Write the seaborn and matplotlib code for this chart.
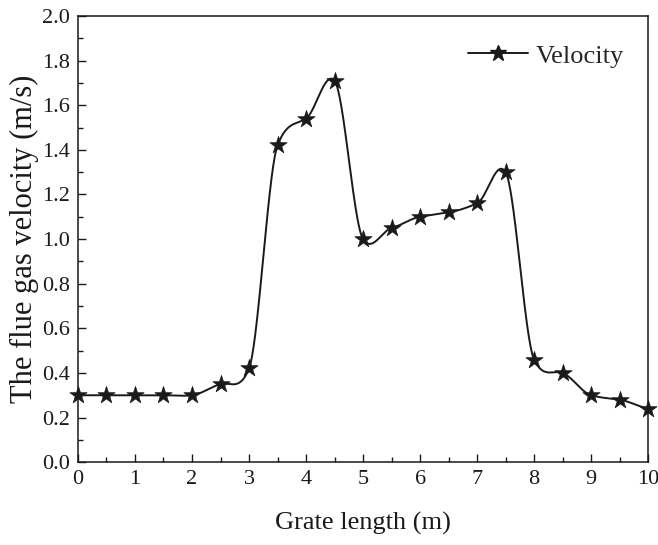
import numpy as np
import pandas as pd
import matplotlib
matplotlib.use("Agg")
import matplotlib.pyplot as plt
import seaborn as sns
from matplotlib.lines import Line2D
from matplotlib.ticker import MultipleLocator, FormatStrFormatter

grate_length = [0, 0.5, 1, 1.5, 2, 2.5, 3, 3.5, 4, 4.5, 5, 5.5, 6, 6.5, 7, 7.5, 8, 8.5, 9, 9.5, 10]
velocity = [0.30, 0.30, 0.30, 0.30, 0.30, 0.35, 0.42, 1.42, 1.54, 1.71, 1.00, 1.05, 1.10, 1.12, 1.16, 1.30, 0.46, 0.40, 0.30, 0.28, 0.24]
series_name = "Velocity"
x_label = "Grate length (m)"
y_label = "The flue gas velocity (m/s)"


def hermite_curve(x, y, tension=0.6, per_seg=60):
    """Smooth line through the points (cardinal spline tangents)."""
    x = np.asarray(x, float)
    y = np.asarray(y, float)
    k = len(x)
    m = np.zeros(k)
    m[1:-1] = (y[2:] - y[:-2]) / (x[2:] - x[:-2])
    m[0] = (y[1] - y[0]) / (x[1] - x[0])
    m[-1] = (y[-1] - y[-2]) / (x[-1] - x[-2])
    m *= tension
    xs_all, ys_all = [], []
    for i in range(k - 1):
        h = x[i + 1] - x[i]
        t = np.linspace(0, 1, per_seg, endpoint=(i == k - 2))
        h00 = 2 * t**3 - 3 * t**2 + 1
        h10 = t**3 - 2 * t**2 + t
        h01 = -2 * t**3 + 3 * t**2
        h11 = t**3 - t**2
        xs_all.append(x[i] + t * h)
        ys_all.append(h00 * y[i] + h10 * h * m[i] + h01 * y[i + 1] + h11 * h * m[i + 1])
    return np.concatenate(xs_all), np.concatenate(ys_all)


sns.set_theme(style="ticks")
plt.rcParams["font.family"] = ["Liberation Serif", "DejaVu Serif"]

fig = plt.figure(figsize=(6.58, 5.45), dpi=100)
ax = fig.add_axes([0.1185, 0.152, 0.8665, 0.8186])

xs, ys = hermite_curve(grate_length, velocity)
curve = pd.DataFrame({"x": xs, "y": ys})
pts = pd.DataFrame({"x": grate_length, "y": velocity})

ink = "#1a1a1a"
sns.lineplot(data=curve, x="x", y="y", ax=ax, color=ink, linewidth=1.4, sort=False)
sns.scatterplot(data=pts, x="x", y="y", ax=ax, marker="*", s=170, color=ink,
                edgecolor=ink, linewidth=0.5, zorder=5, clip_on=False)

ax.set_xlim(0, 10)
ax.set_ylim(0, 2.0)
ax.xaxis.set_major_locator(MultipleLocator(1))
ax.xaxis.set_minor_locator(MultipleLocator(0.5))
ax.yaxis.set_major_locator(MultipleLocator(0.2))
ax.yaxis.set_minor_locator(MultipleLocator(0.1))
ax.yaxis.set_major_formatter(FormatStrFormatter("%.1f"))
ax.tick_params(which="major", direction="in", length=6, width=1, labelsize=16, colors=ink, pad=6)
ax.tick_params(which="minor", direction="in", length=3.5, width=1, colors=ink)
ax.tick_params(top=False, right=False, which="both")
for sp in ax.spines.values():
    sp.set_linewidth(1.1)
    sp.set_color(ink)

ax.set_xlabel(x_label, fontsize=19, labelpad=16, color=ink)
ax.set_ylabel(y_label, fontsize=22, labelpad=2, color=ink)

handle = Line2D([], [], color=ink, linewidth=1.4, marker="*", markersize=12)
ax.legend([handle], [series_name], loc="upper right", frameon=False, fontsize=19,
          handlelength=2.3, handletextpad=0.3, bbox_to_anchor=(1.0, 0.99))

fig.savefig("out.png", dpi=100)
